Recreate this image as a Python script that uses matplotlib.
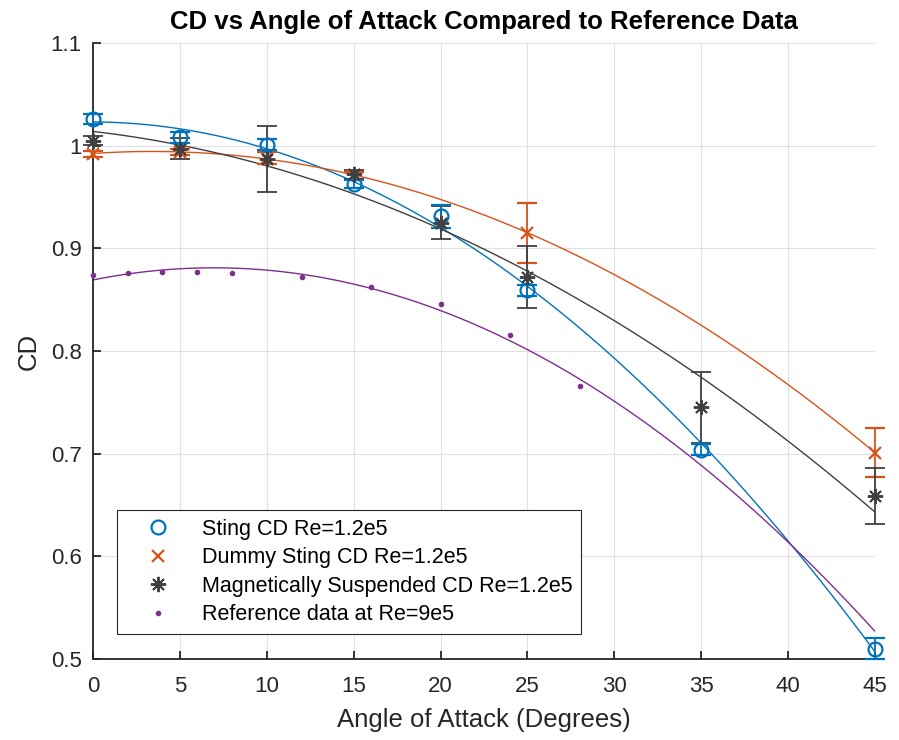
import numpy as np
import matplotlib
matplotlib.use("Agg")
import matplotlib.pyplot as plt
from matplotlib.lines import Line2D

plt.rcParams['font.family'] = ['Liberation Sans', 'DejaVu Sans']

# ---- data ----
sting_x = [0, 5, 10, 15, 20, 25, 35, 45]
sting_y = [1.026, 1.008, 1.001, 0.963, 0.931, 0.859, 0.704, 0.510]
sting_err = [0.005, 0.005, 0.005, 0.004, 0.011, 0.005, 0.005, 0.010]

dummy_x = [0, 5, 10, 15, 25, 45]
dummy_y = [0.992, 0.994, 0.988, 0.971, 0.915, 0.701]
dummy_err = [0.003, 0.003, 0.006, 0.003, 0.029, 0.0235]

mag_x = [0, 5, 10, 15, 20, 25, 35, 45]
mag_y = [1.005, 0.997, 0.987, 0.972, 0.925, 0.872, 0.745, 0.659]
mag_err = [0.004, 0.010, 0.032, 0.004, 0.016, 0.030, 0.035, 0.0275]

ref_x = [0, 2, 4, 6, 8, 12, 16, 20, 24, 28]
ref_y = [0.8743, 0.876, 0.877, 0.877, 0.8763, 0.8724, 0.862, 0.8458, 0.816, 0.7656]

xticks = [0, 5, 10, 15, 20, 25, 30, 35, 40, 45]
yticks = [0.5, 0.6, 0.7, 0.8, 0.9, 1.0, 1.1]
ytick_labels = ['0.5', '0.6', '0.7', '0.8', '0.9', '1', '1.1']

c_blue = '#0072BD'
c_orange = '#D95319'
c_gray = '#404040'
c_purple = '#7E2F8E'
c_axis = '#262626'

fig = plt.figure(figsize=(8.99, 7.40), dpi=100)
ax = fig.add_axes([0.1034, 0.1095, 0.8699, 0.8324])

xf = np.linspace(0, 45, 300)

def noclip(container):
    for a in container.get_children():
        a.set_clip_on(False)

e1 = ax.errorbar(sting_x, sting_y, yerr=sting_err, fmt='o', color=c_blue, ms=10,
                 mfc='none', mew=1.6, capsize=7, elinewidth=1.3, capthick=1.3, zorder=5)
noclip(e1)
ax.plot(xf, np.polyval(np.polyfit(sting_x, sting_y, 2), xf), color=c_blue, lw=1.0)

e2 = ax.errorbar(dummy_x, dummy_y, yerr=dummy_err, fmt='x', color=c_orange, ms=9,
                 mew=1.6, capsize=7, elinewidth=1.3, capthick=1.3, zorder=4)
noclip(e2)
ax.plot(xf, np.polyval(np.polyfit(dummy_x, dummy_y, 2), xf), color=c_orange, lw=1.0)

e3 = ax.errorbar(mag_x, mag_y, yerr=mag_err, fmt='none', color=c_gray,
                 capsize=7, elinewidth=1.3, capthick=1.3, zorder=4)
noclip(e3)
ax.plot(mag_x, mag_y, ls='none', marker=(8, 2, 0), ms=11, mew=1.4, color=c_gray,
        zorder=6, clip_on=False)
ax.plot(xf, np.polyval(np.polyfit(mag_x, mag_y, 2), xf), color=c_gray, lw=1.0)

ax.plot(ref_x, ref_y, ls='none', marker='.', ms=6, color=c_purple, zorder=5, clip_on=False)
ax.plot(xf, np.polyval(np.polyfit(ref_x, ref_y, 2), xf), color=c_purple, lw=1.0)

handles = [
    Line2D([], [], ls='none', marker='o', ms=10, mfc='none', mew=1.6, color=c_blue),
    Line2D([], [], ls='none', marker='x', ms=9, mew=1.6, color=c_orange),
    Line2D([], [], ls='none', marker=(8, 2, 0), ms=11, mew=1.4, color=c_gray),
    Line2D([], [], ls='none', marker='.', ms=6, color=c_purple),
]
labels = ['Sting CD Re=1.2e5', 'Dummy Sting CD Re=1.2e5',
          'Magnetically Suspended CD Re=1.2e5', 'Reference data at Re=9e5']
leg = ax.legend(handles, labels, loc='lower left', bbox_to_anchor=(0.0307, 0.0406),
                fontsize=15.5, frameon=True, fancybox=False, edgecolor=c_axis,
                framealpha=1, handletextpad=0.55, borderpad=0.4, labelspacing=0.35,
                handlelength=3.0, borderaxespad=0)
leg.get_frame().set_linewidth(0.8)
leg.set_zorder(10)

ax.set_xlim(0, 45)
ax.set_ylim(0.5, 1.1)
ax.set_xticks(xticks)
ax.set_yticks(yticks)
ax.set_yticklabels(ytick_labels)
ax.grid(True, color='#e0e0e0', lw=0.8)
ax.set_axisbelow(True)
for s in ['top', 'right']:
    ax.spines[s].set_visible(False)
for s in ['left', 'bottom']:
    ax.spines[s].set_linewidth(1.3)
    ax.spines[s].set_color(c_axis)
ax.tick_params(direction='in', length=6, width=1.3, labelsize=16, colors=c_axis)
ax.tick_params(axis='x', pad=12)
ax.tick_params(axis='y', pad=8)

ax.set_xlabel('Angle of Attack (Degrees)', fontsize=18.5, color=c_axis, labelpad=8)
ax.set_ylabel('CD', fontsize=18.5, color=c_axis, labelpad=7)
ax.set_title('CD vs Angle of Attack Compared to Reference Data', fontsize=18.5,
             fontweight='bold', color='black', pad=10)

fig.savefig('out.png', dpi=100)
